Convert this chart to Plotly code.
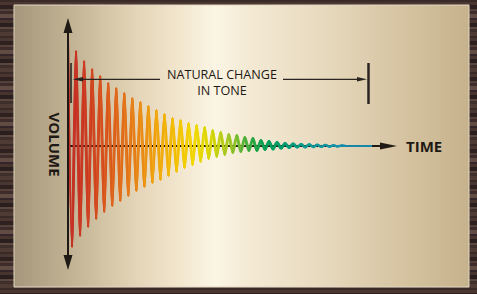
import plotly.graph_objects as go

W, H = 477, 294

# ---------------- data ----------------
# time measured in oscillation cycles from the VOLUME axis
EXTREMA_TIME = [
    0.0, 0.5, 1.0, 1.5, 2.0, 2.5, 3.0, 3.5, 4.0, 4.5,
    5.0, 5.5, 6.0, 6.5, 7.0, 7.5, 8.0, 8.5, 9.0, 9.5,
    10.0, 10.5, 11.0, 11.5, 12.0, 12.5, 13.0, 13.5, 14.0, 14.5,
    15.0, 15.5, 16.0, 16.5, 17.0, 17.5, 18.0, 18.5, 19.0, 19.5,
    20.0, 20.5, 21.0, 21.5, 22.0, 22.5, 23.0, 23.5, 24.0, 24.5,
    25.0, 25.5, 26.0, 26.5, 27.0, 27.5, 28.0, 28.5, 29.0, 29.5,
    30.0, 30.5, 31.0, 31.5, 32.0, 32.5, 33.0, 33.5, 34.0,
]
# signed volume of each peak / trough
EXTREMA_VOLUME = [
    107, -101, 95, -90, 85, -81, 77, -73, 70, -66,
    63, -60, 58, -55, 53, -50, 48, -45, 44, -41,
    40, -37, 36, -34, 32, -30, 28, -26, 26, -22,
    23, -19, 21, -16, 19, -13, 16, -11, 14, -9,
    12, -7, 11, -6, 9, -5, 8, -5, 6, -4,
    5, -3.5, 4, -2.5, 3, -2, 2.5, -1.5, 2, -1.5,
    1.8, -1.2, 1.5, -1, 1.2, -0.8, 0.8, -0.5, 0.4,
]
TAIL_TIME = [34.6, 37.8]
TAIL_VOLUME = [0, 0]

AXIS_LABEL_X = "TIME"
AXIS_LABEL_Y = "VOLUME"
BRACKET_LABEL = ["NATURAL CHANGE", "IN TONE"]

# ---------------- scales ----------------
PX_PER_CYCLE = 8.04
X0_PX, Y0_PX = 68, 146
x_range = [(0 - X0_PX) / PX_PER_CYCLE, (W - X0_PX) / PX_PER_CYCLE]
y_range = [-(H - Y0_PX), Y0_PX]


def lerp_color(stops, v):
    if v <= stops[0][0]:
        c = stops[0][1]
    elif v >= stops[-1][0]:
        c = stops[-1][1]
    else:
        for (a, ca), (b, cb) in zip(stops[:-1], stops[1:]):
            if a <= v <= b:
                f = (v - a) / (b - a)
                c = tuple(ca[i] + (cb[i] - ca[i]) * f for i in range(3))
                break
    return "rgb(%d,%d,%d)" % tuple(round(x) for x in c)


WAVE_STOPS = [
    (0.0, (192, 42, 38)), (2.7, (205, 60, 33)), (5.2, (218, 88, 28)),
    (8.3, (230, 125, 25)), (11.4, (240, 165, 15)), (14.6, (243, 200, 0)),
    (16.4, (240, 218, 0)), (18.7, (205, 212, 15)), (20.8, (150, 195, 45)),
    (22.9, (60, 170, 65)), (24.9, (0, 158, 85)), (27.6, (0, 155, 115)),
    (30.7, (20, 155, 155)), (34.5, (25, 145, 175)), (37.8, (20, 125, 165)),
]
PANEL_STOPS = [
    (14, (166, 151, 124)), (70, (194, 178, 148)), (130, (226, 210, 180)),
    (180, (242, 230, 206)), (215, (251, 245, 228)), (250, (244, 234, 212)),
    (330, (230, 216, 188)), (400, (214, 196, 162)), (469, (198, 178, 140)),
]
WOOD = ["#3a2a27", "#4a3631", "#2e211f", "#55403a", "#3d2c29", "#624b43",
        "#33252a", "#47342f", "#2b1f1d", "#5c463f", "#3f2f2b", "#4f3a34"]

T = EXTREMA_TIME + TAIL_TIME
V = EXTREMA_VOLUME + TAIL_VOLUME

fig = go.Figure()
n = len(T)
for j in range(n - 1):
    lo, hi = max(j - 1, 0), min(j + 3, n)
    fig.add_trace(go.Scatter(
        x=T[lo:hi], y=V[lo:hi], mode="lines",
        line=dict(color=lerp_color(WAVE_STOPS, (T[j] + T[j + 1]) / 2),
                  width=2.0, shape="spline", smoothing=1.0),
        hoverinfo="skip", showlegend=False,
    ))


def px(x):
    return x / W


def py(y):
    return 1 - y / H


shapes = []
# wood grain
y = 0
k = 0
while y < H:
    th = 2 + (k % 3)
    shapes.append(dict(type="rect", xref="paper", yref="paper", layer="below",
                       x0=0, x1=1, y0=py(y + th), y1=py(y),
                       fillcolor=WOOD[k % len(WOOD)], line=dict(width=0)))
    y += th
    k += 1
# panel gradient
x = 14
while x < 469:
    shapes.append(dict(type="rect", xref="paper", yref="paper", layer="below",
                       x0=px(x), x1=px(min(x + 2, 469)), y0=py(287), y1=py(5),
                       fillcolor=lerp_color(PANEL_STOPS, x + 1), line=dict(width=0)))
    x += 2
# panel border
shapes.append(dict(type="rect", xref="paper", yref="paper", layer="below",
                   x0=px(14), x1=px(469), y0=py(287), y1=py(5),
                   fillcolor="rgba(0,0,0,0)", line=dict(color="#e2d8c4", width=1)))
# horizontal axis (below the wave)
AX = "#1f1a16"
shapes.append(dict(type="line", xref="paper", yref="paper", layer="below",
                   x0=px(68), x1=px(384), y0=py(146), y1=py(146),
                   line=dict(color=AX, width=2)))


def tri(points, color):
    p = "M " + " L ".join("%f %f" % (px(a), py(b)) for a, b in points) + " Z"
    return dict(type="path", xref="paper", yref="paper", path=p,
                fillcolor=color, line=dict(width=0), layer="above")


# vertical axis
shapes.append(dict(type="line", xref="paper", yref="paper", layer="above",
                   x0=px(68), x1=px(68), y0=py(30), y1=py(258),
                   line=dict(color=AX, width=2)))
shapes.append(tri([(68, 18), (63.5, 33), (72.5, 33)], AX))
shapes.append(tri([(68, 270), (63.5, 255), (72.5, 255)], AX))
shapes.append(tri([(397, 146), (380, 142.5), (380, 149.5)], AX))
# bracket
BR = "#2a2520"
shapes.append(dict(type="line", xref="paper", yref="paper", layer="above",
                   x0=px(71), x1=px(71), y0=py(63), y1=py(103),
                   line=dict(color=BR, width=1.6)))
shapes.append(dict(type="line", xref="paper", yref="paper", layer="above",
                   x0=px(368.5), x1=px(368.5), y0=py(63), y1=py(104),
                   line=dict(color=BR, width=2.5)))
shapes.append(dict(type="line", xref="paper", yref="paper", layer="above",
                   x0=px(80), x1=px(160), y0=py(79.3), y1=py(79.3),
                   line=dict(color=BR, width=1.3)))
shapes.append(dict(type="line", xref="paper", yref="paper", layer="above",
                   x0=px(283), x1=px(360), y0=py(79.3), y1=py(79.3),
                   line=dict(color=BR, width=1.3)))
shapes.append(tri([(72.7, 79.3), (83, 77), (83, 81.6)], BR))
shapes.append(tri([(367, 79.3), (357, 77), (357, 81.6)], BR))

TXT = "#1e1914"
annotations = [
    dict(text=AXIS_LABEL_X, x=px(404), y=py(146.5), xref="paper", yref="paper",
         xanchor="left", yanchor="middle", showarrow=False,
         font=dict(family="Open Sans", size=15, color=TXT, weight="bold")),
    dict(text=AXIS_LABEL_Y, x=px(54), y=py(144.5), xref="paper", yref="paper",
         xanchor="center", yanchor="middle", showarrow=False, textangle=90,
         font=dict(family="Open Sans", size=15, color=TXT, weight="bold")),
    dict(text="<br>".join(BRACKET_LABEL), x=px(222), y=py(82.3),
         xref="paper", yref="paper", xanchor="center", yanchor="middle",
         showarrow=False, align="center",
         font=dict(family="Open Sans", size=12.6, color=TXT)),
]

fig.update_layout(
    width=W, height=H, margin=dict(l=0, r=0, t=0, b=0),
    paper_bgcolor="#3d2d2a", plot_bgcolor="rgba(0,0,0,0)",
    xaxis=dict(range=x_range, visible=False, fixedrange=True),
    yaxis=dict(range=y_range, visible=False, fixedrange=True),
    shapes=shapes, annotations=annotations, showlegend=False,
)

fig.write_html("out.html", config={"displayModeBar": False},
               post_script="document.body.style.margin='0px';"
                           "document.body.style.overflow='hidden';")
